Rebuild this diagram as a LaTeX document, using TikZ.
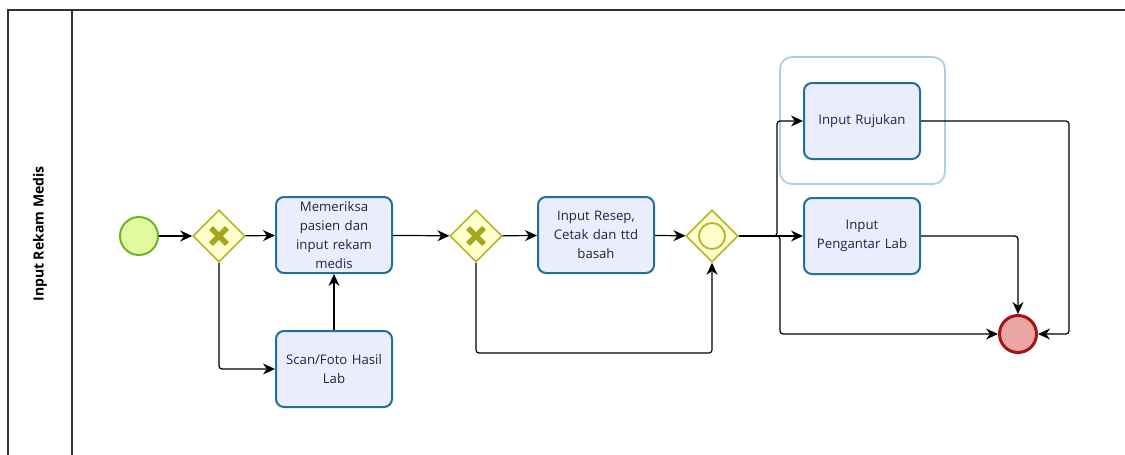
\documentclass[tikz,border=0pt]{standalone}
\usepackage{fontspec}
\setmainfont{Open Sans}
\usetikzlibrary{shapes.geometric,arrows.meta,calc}

\definecolor{taskfill}{RGB}{234,238,252}
\definecolor{taskline}{RGB}{32,112,152}
\definecolor{tasktext}{RGB}{45,30,70}
\definecolor{gwfill}{RGB}{255,255,205}
\definecolor{gwline}{RGB}{180,180,40}
\definecolor{gwmark}{RGB}{165,165,30}
\definecolor{startfill}{RGB}{225,250,160}
\definecolor{startline}{RGB}{110,180,40}
\definecolor{endfill}{RGB}{235,165,165}
\definecolor{endline}{RGB}{165,20,20}
\definecolor{groupline}{RGB}{170,208,225}

\tikzset{
  task/.style={draw=taskline, fill=taskfill, line width=2pt, rounded corners=8pt,
    minimum width=116pt, minimum height=76pt, text width=108pt, inner sep=2pt,
    align=center, font=\fontsize{13.2}{18.8}\selectfont, text=tasktext},
  gateway/.style={diamond, draw=gwline, fill=gwfill, line width=1.6pt,
    minimum width=52pt, minimum height=52pt, inner sep=0pt},
  startev/.style={circle, draw=startline, fill=startfill, line width=2pt, minimum size=38pt},
  endev/.style={circle, draw=endline, fill=endfill, line width=3pt, minimum size=37pt},
  flow/.style={draw=black, line width=1.2pt, rounded corners=3pt,
    -{Stealth[length=12pt,width=11pt]}},
  xmark/.style={gwmark, line width=5.5pt},
}

\begin{document}
\begin{tikzpicture}[x=1pt,y=-1pt]
\useasboundingbox (0,0) rectangle (1125,455);
% pool and lane
\draw [line width=1.4pt, black!80] (1125,10) -- (8,10) -- (8,455);
\draw [line width=1.4pt, black!80] (72,10) -- (72,455);
\node[rotate=90, font=\fontsize{14}{16}\selectfont\bfseries] (lane) at (40,234) {Input Rekam Medis};

% group around Input Rujukan
\draw [groupline, line width=1.8pt, rounded corners=12pt] (780,57) rectangle (945,184);

% events and gateways
\node[startev] (start) at (139,236) {};
\node[gateway] (gwa) at (219,236) {};
\draw [xmark] ($(gwa)+(-8,-8)$) -- ($(gwa)+(8,8)$) ($(gwa)+(-8,8)$) -- ($(gwa)+(8,-8)$);
\node[gateway] (gwb) at (476,236) {};
\draw [xmark] ($(gwb)+(-8,-8)$) -- ($(gwb)+(8,8)$) ($(gwb)+(-8,8)$) -- ($(gwb)+(8,-8)$);
\node[gateway] (gwc) at (712,236) {};
\draw [gwline, line width=1.8pt] (gwc) circle (13);
\node[endev] (stop) at (1018,334) {};

% tasks
\node[task] (periksa) at (334,235) {Memeriksa\\pasien dan\\input rekam\\medis};
\node[task] (scan) at (334,369) {Scan/Foto Hasil\\Lab};
\node[task] (resep) at (596,235) {Input Resep,\\Cetak dan ttd\\basah};
\node[task] (rujukan) at (862,121) {Input Rujukan};
\node[task] (pengantar) at (862,236) {Input\\Pengantar Lab};

% sequence flows
\draw [flow] (start) -- (gwa);
\draw [flow] (gwa) -- (periksa);
\draw [flow] (gwa.south) |- (scan.west);
\draw [flow] (scan) -- (periksa);
\draw [flow] (periksa) -- (gwb);
\draw [flow] (gwb) -- (resep);
\draw [flow] (gwb.south) -- (476,353) -- (712,353) -- (gwc.south);
\draw [flow] (resep) -- (gwc);
\draw [flow] (gwc.east) -- (777,236) -- (777,121) -- (rujukan.west);
\draw [flow] (gwc.east) -- (pengantar.west);
\draw [flow] (gwc.east) -- (780,236) -- (780,334) -- (stop.west);
\draw [flow] (rujukan.east) -- (1069,121) -- (1069,334) -- (stop.east);
\draw [flow] (pengantar.east) -| (stop.north);
\end{tikzpicture}
\end{document}
